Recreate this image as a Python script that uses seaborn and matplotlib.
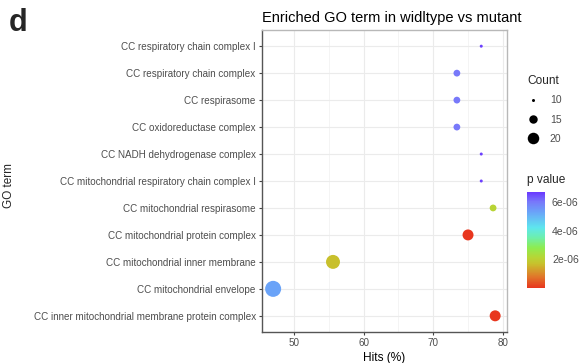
import numpy as np
import pandas as pd
import matplotlib
matplotlib.use("Agg")
import matplotlib.pyplot as plt
import seaborn as sns
from matplotlib.colors import LinearSegmentedColormap, Normalize
from matplotlib.cm import ScalarMappable
from matplotlib.lines import Line2D
from matplotlib.ticker import MultipleLocator

# GO enrichment results (cellular component terms)
terms = [
    "CC respiratory chain complex I",
    "CC respiratory chain complex",
    "CC respirasome",
    "CC oxidoreductase complex",
    "CC NADH dehydrogenase complex",
    "CC mitochondrial respiratory chain complex I",
    "CC mitochondrial respirasome",
    "CC mitochondrial protein complex",
    "CC mitochondrial inner membrane",
    "CC mitochondrial envelope",
    "CC inner mitochondrial membrane protein complex",
]
hits = [76.9, 73.4, 73.4, 73.4, 76.9, 76.9, 78.6, 75.0, 55.6, 47.0, 78.9]
counts = [10, 13, 13, 13, 10, 10, 13, 19, 25, 30, 19]
pvalues = [6.6e-06, 6.0e-06, 6.0e-06, 6.0e-06, 6.6e-06, 6.6e-06,
           2.1e-06, 1e-08, 1.7e-06, 5.3e-06, 1e-08]
count_breaks = [10, 15, 20]
p_breaks = [2e-06, 4e-06, 6e-06]

df = pd.DataFrame({"term": terms, "hits": hits, "Count": counts, "p": pvalues})

sns.set_theme(style="white")
plt.rcParams["font.family"] = ["Liberation Sans", "DejaVu Sans"]

# rainbow-like gradient, red for smallest p values
cmap = LinearSegmentedColormap.from_list("pgrad", [
    (0.00, "#e8361e"), (0.12, "#e0782a"), (0.25, "#c8c02c"), (0.32, "#b6d636"),
    (0.42, "#8eec50"), (0.53, "#6cefb0"), (0.63, "#5ee6ee"), (0.79, "#6aa4f8"),
    (0.90, "#7878fa"), (1.00, "#6a38ff"),
])
pnorm = Normalize(0, 6.7e-06)
size_range = (4.7, 133.0)
size_lim = (10, 30)


def area(v):
    return size_range[0] + (v - size_lim[0]) / (size_lim[1] - size_lim[0]) * (size_range[1] - size_range[0])


fig = plt.figure(figsize=(5.85, 3.63), dpi=100)
ax = fig.add_axes([262 / 585, 1 - 332 / 363, 245 / 585, 302 / 363])

sns.scatterplot(data=df, x="hits", y="term", hue="p", size="Count",
                palette=cmap, hue_norm=pnorm, sizes=size_range, size_norm=size_lim,
                linewidth=0, legend=False, ax=ax, zorder=3)

ax.set_xlim(45.4, 80.6)
ax.set_ylim(len(terms) - 1 + 0.6, -0.6)
ax.xaxis.set_major_locator(MultipleLocator(10))
ax.xaxis.set_minor_locator(MultipleLocator(5))
ax.grid(True, which="major", color="#ebebeb", lw=0.8)
ax.grid(True, which="minor", axis="x", color="#f2f2f2", lw=0.6)
ax.set_axisbelow(True)
for s in ["left", "bottom"]:
    ax.spines[s].set_color("#555555")
    ax.spines[s].set_linewidth(1.0)
for s in ["top", "right"]:
    ax.spines[s].set_color("#b8b8b8")
    ax.spines[s].set_linewidth(1.0)
ax.tick_params(axis="both", which="major", direction="out", length=2.5, width=0.8,
               color="#444444", labelcolor="#4d4d4d", labelsize=7.1, pad=2,
               left=True, bottom=True)
ax.tick_params(axis="x", which="minor", length=0)

ax.set_xlabel("Hits (%)", fontsize=8.6, color="black", labelpad=3)
ax.set_ylabel("")
fig.text(9 / 585, 1 - 185 / 363, "GO term", rotation=90, ha="center", va="center",
         fontsize=8.5)

ax.set_title("Enriched GO term in widltype vs mutant", loc="left", fontsize=10.5,
             color="black", pad=6)
fig.text(9 / 585, 1 - 31 / 363, "d", fontsize=22, fontweight="bold", ha="left",
         va="baseline")

# Count legend
handles = [Line2D([], [], ls="none", marker="o", color="black",
                  markersize=np.sqrt(area(v)), markeredgewidth=0) for v in count_breaks]
leg = fig.legend(handles, [str(v) for v in count_breaks], title="Count",
                 loc="upper left", bbox_to_anchor=(527 / 585, 1 - 75 / 363),
                 frameon=False, fontsize=7.5, title_fontsize=8.6,
                 handlelength=1.2, handletextpad=1.0, labelspacing=0.9,
                 borderaxespad=0, borderpad=0)
leg._legend_box.align = "left"
leg._legend_box.sep = 6
for t in leg.get_texts():
    t.set_color("#4d4d4d")

# p value colour bar
cax = fig.add_axes([527 / 585, 1 - 288 / 363, 18 / 585, 96 / 363])
cb = fig.colorbar(ScalarMappable(norm=pnorm, cmap=cmap), cax=cax)
cb.outline.set_visible(False)
cb.set_ticks(p_breaks)
cb.set_ticklabels([f"{v:.0e}" for v in p_breaks])
cax.tick_params(direction="in", length=3, width=0.8, color="white",
                labelsize=7.5, labelcolor="#4d4d4d", pad=5)
fig.text(527 / 585, 1 - 180 / 363, "p value", fontsize=8.6, ha="left", va="center")

fig.savefig("out.png", dpi=100)
